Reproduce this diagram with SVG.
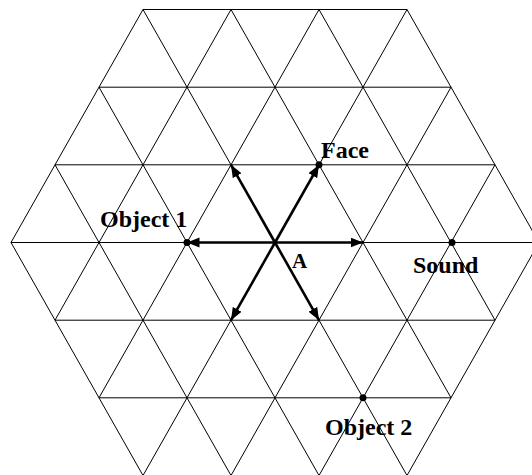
<svg xmlns="http://www.w3.org/2000/svg" width="532" height="475" viewBox="0 0 532 475">
  <style>
    .grid line { stroke: #000; stroke-width: 1; }
    .arrow { stroke: #000; stroke-width: 2.6; fill: none; marker-end: url(#head); }
    .dot { fill: #000; }
    .lbl { font-family: "Liberation Serif", "Times New Roman", serif; font-weight: bold; font-size: 24px; fill: #000; }
  </style>
  <defs>
    <marker id="head" markerUnits="userSpaceOnUse" markerWidth="13" markerHeight="11" refX="12.5" refY="5" orient="auto">
      <path d="M0,0 L12.5,5 L0,10 z" fill="#000"/>
    </marker>
  </defs>
  <rect width="532" height="475" fill="#fff"/>
  <g id="grid" class="grid">
    <line x1="143" y1="9.5" x2="407" y2="9.5"/>
    <line x1="99" y1="87.2" x2="451" y2="87.2"/>
    <line x1="55" y1="164.8" x2="495" y2="164.8"/>
    <line x1="11" y1="242.5" x2="539" y2="242.5"/>
    <line x1="55" y1="320.2" x2="495" y2="320.2"/>
    <line x1="99" y1="397.8" x2="451" y2="397.8"/>
    <line x1="143" y1="475.5" x2="407" y2="475.5"/>

    <line x1="11" y1="242.5" x2="143" y2="475.5"/>
    <line x1="55" y1="164.8" x2="231" y2="475.5"/>
    <line x1="99" y1="87.2" x2="319" y2="475.5"/>
    <line x1="143" y1="9.5" x2="407" y2="475.5"/>
    <line x1="231" y1="9.5" x2="451" y2="397.8"/>
    <line x1="319" y1="9.5" x2="495" y2="320.2"/>
    <line x1="407" y1="9.5" x2="539" y2="242.5"/>

    <line x1="539" y1="242.5" x2="407" y2="475.5"/>
    <line x1="495" y1="164.8" x2="319" y2="475.5"/>
    <line x1="451" y1="87.2" x2="231" y2="475.5"/>
    <line x1="407" y1="9.5" x2="143" y2="475.5"/>
    <line x1="319" y1="9.5" x2="99" y2="397.8"/>
    <line x1="231" y1="9.5" x2="55" y2="320.2"/>
    <line x1="143" y1="9.5" x2="11" y2="242.5"/>
  </g>
  <g id="connectors">
    <line class="arrow" x1="275" y1="242.5" x2="187" y2="242.5"/>
    <line class="arrow" x1="275" y1="242.5" x2="363" y2="242.5"/>
    <line class="arrow" x1="275" y1="242.5" x2="231" y2="164.8"/>
    <line class="arrow" x1="275" y1="242.5" x2="319" y2="164.8"/>
    <line class="arrow" x1="275" y1="242.5" x2="231" y2="320.2"/>
    <line class="arrow" x1="275" y1="242.5" x2="319" y2="320.2"/>
  </g>
  <g id="node-A">
    <text class="lbl" x="292" y="268" style="font-size:21px">A</text>
  </g>
  <g id="node-object1">
    <circle class="dot" cx="187" cy="242.5" r="3.5"/>
    <text class="lbl" x="100" y="227">Object 1</text>
  </g>
  <g id="node-face">
    <circle class="dot" cx="319" cy="164.8" r="3.5"/>
    <text class="lbl" x="321" y="158">Face</text>
  </g>
  <g id="node-sound">
    <circle class="dot" cx="452" cy="242.5" r="3.5"/>
    <text class="lbl" x="413" y="273">Sound</text>
  </g>
  <g id="node-object2">
    <circle class="dot" cx="363" cy="397.8" r="3.5"/>
    <text class="lbl" x="325" y="434.5">Object 2</text>
  </g>
</svg>
